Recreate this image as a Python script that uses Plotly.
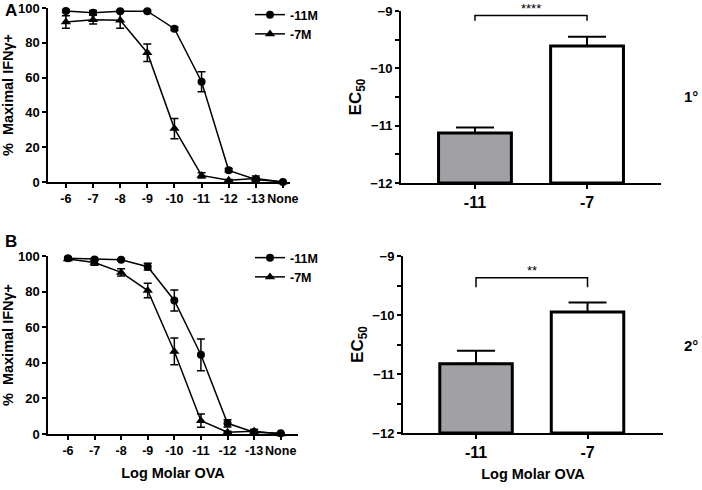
import plotly.graph_objects as go

# dose-response categories (log molar OVA)
doses = ['-6', '-7', '-8', '-9', '-10', '-11', '-12', '-13', 'None']

# panel A (1°) – % maximal IFNγ+
a_11m = [98.3, 97.3, 98.1, 98.2, 88.1, 57.6, 6.7, 1.5, 0.0]
a_11m_err = [0.8, 1.2, 0.6, 0.5, 1.0, 5.8, 1.0, 1.0, 0.3]
a_7m = [91.9, 93.3, 92.9, 74.3, 30.7, 3.8, 1.0, 2.0, 0.0]
a_7m_err = [3.6, 2.5, 4.6, 5.0, 5.8, 1.5, 0.5, 1.5, 0.3]

# panel B (2°)
b_11m = [98.7, 98.1, 97.9, 94.0, 75.0, 44.5, 6.0, 1.0, 0.4]
b_11m_err = [0.8, 0.6, 0.6, 1.9, 5.9, 8.9, 2.0, 1.5, 0.3]
b_7m = [98.3, 96.3, 90.8, 80.6, 46.4, 7.5, 1.0, 1.5, 0.0]
b_7m_err = [0.8, 1.5, 2.0, 4.1, 7.5, 3.7, 0.5, 1.0, 0.3]

# EC50 bars
groups = ['-11', '-7']
a_ec50 = [-11.13, -9.61]
a_ec50_err = [0.10, 0.16]
b_ec50 = [-10.825, -9.95]
b_ec50_err = [0.22, 0.16]
bar_colors = ['#a0a0a5', 'white']

# significance brackets: [bottom, top] and stars
a_bracket = [-9.17, -9.08]
a_stars = '****'
b_bracket = [-9.53, -9.37]
b_stars = '**'

FONT = 'Liberation Sans'
fig = go.Figure()


def add_curves(xa, ya, y11, e11, y7, e7, legend):
    fig.add_trace(go.Scatter(
        x=doses, y=y11, mode='lines+markers', name='-11M',
        xaxis=xa, yaxis=ya, legend=legend, cliponaxis=False,
        line=dict(color='black', width=1.5),
        marker=dict(symbol='circle', size=8, color='black'),
        error_y=dict(type='data', array=e11, color='black', thickness=1.5, width=4)
    ))
    fig.add_trace(go.Scatter(
        x=doses, y=y7, mode='lines+markers', name='-7M',
        xaxis=xa, yaxis=ya, legend=legend, cliponaxis=False,
        line=dict(color='black', width=1.5),
        marker=dict(symbol='triangle-up', size=9, color='black'),
        error_y=dict(type='data', array=e7, color='black', thickness=1.5, width=4)
    ))


def add_bars(xa, ya, vals, errs, bracket, stars):
    base = -12
    for g, v, e, c in zip(groups, vals, errs, bar_colors):
        fig.add_trace(go.Bar(
            x=[g], y=[v - base], base=base, width=0.65,
            xaxis=xa, yaxis=ya, showlegend=False,
            marker=dict(color=c, line=dict(color='black', width=3)),
            error_y=dict(type='data', array=[e], arrayminus=[0], color='black',
                         thickness=2, width=19)
        ))
    fig.add_trace(go.Scatter(
        x=[groups[0], groups[0], groups[1], groups[1]],
        y=[bracket[0], bracket[1], bracket[1], bracket[0]],
        mode='lines', line=dict(color='black', width=1.5),
        xaxis=xa, yaxis=ya, showlegend=False, cliponaxis=False
    ))
    fig.add_annotation(x=0.5, y=bracket[1], xref=xa, yref=ya, text=stars,
                       showarrow=False, yanchor='bottom', yshift=-2,
                       font=dict(family=FONT, size=13, color='black'))


add_curves('x', 'y', a_11m, a_11m_err, a_7m, a_7m_err, 'legend')
add_bars('x2', 'y2', a_ec50, a_ec50_err, a_bracket, a_stars)
add_curves('x3', 'y3', b_11m, b_11m_err, b_7m, b_7m_err, 'legend2')
add_bars('x4', 'y4', b_ec50, b_ec50_err, b_bracket, b_stars)

tick_x = dict(family=FONT, size=12.5, color='black', weight='bold')
tick_y = dict(family=FONT, size=13, color='black', weight='bold')
tick_big = dict(family=FONT, size=16, color='black', weight='bold')
title_font = dict(family=FONT, size=14.5, color='black', weight='bold')
legend_font = dict(family=FONT, size=12.5, color='black', weight='bold')
ax_common = dict(showline=True, linecolor='black', showgrid=False, zeroline=False,
                 ticks='outside', ticklen=4, tickcolor='black', automargin=False,
                 tickangle=0)

W, H = 702, 490


def px(a, b):
    return [a / W, b / W]


def py(top, bottom):
    return [1 - bottom / H, 1 - top / H]


curve_y = dict(ax_common, range=[0, 100], dtick=20, linewidth=1.5, tickwidth=1.5,
               tickfont=tick_y,
               title=dict(text='%  Maximal IFNγ+', font=title_font, standoff=4))
bar_y = dict(ax_common, range=[-12, -9], dtick=1, linewidth=2, tickwidth=1.5,
             tickfont=tick_y,
             minor=dict(dtick=0.5, ticks='outside', ticklen=4, tickcolor='black', tickwidth=1.5),
             title=dict(text='EC<sub>50</sub>', font=dict(title_font, size=17), standoff=4))

fig.update_layout(
    width=W, height=H, margin=dict(l=0, r=0, t=0, b=0),
    paper_bgcolor='white', plot_bgcolor='white',
    barmode='overlay',
    xaxis=dict(ax_common, type='category', domain=px(48, 290), range=[-0.66, 8.26],
               linewidth=1.5, tickwidth=1.5, tickfont=tick_x, anchor='y'),
    yaxis=dict(curve_y, domain=py(8, 182), anchor='x'),
    xaxis2=dict(ax_common, type='category', domain=px(401, 661), range=[-0.66, 1.66],
                linewidth=2, tickwidth=1.5, tickfont=tick_big, anchor='y2'),
    yaxis2=dict(bar_y, domain=py(11, 183), anchor='x2'),
    xaxis3=dict(ax_common, type='category', domain=px(48, 298), range=[-0.75, 8.65],
                linewidth=1.5, tickwidth=1.5, tickfont=tick_x, anchor='y3',
                title=dict(text='Log Molar OVA', font=title_font, standoff=11)),
    yaxis3=dict(curve_y, domain=py(256, 434), anchor='x3'),
    xaxis4=dict(ax_common, type='category', domain=px(403, 663), range=[-0.655, 1.677],
                linewidth=2, tickwidth=1.5, tickfont=tick_big, anchor='y4',
                title=dict(text='Log Molar OVA', font=title_font, standoff=9)),
    yaxis4=dict(bar_y, domain=py(256, 433), anchor='x4'),
    legend=dict(x=250 / W, y=1.0, xanchor='left', yanchor='top',
                font=legend_font, bgcolor='rgba(0,0,0,0)', tracegroupgap=0, itemwidth=30),
    legend2=dict(x=250 / W, y=1 - 243 / H, xanchor='left', yanchor='top',
                 font=legend_font, bgcolor='rgba(0,0,0,0)', tracegroupgap=0, itemwidth=30),
)

# panel letters and row labels
for txt, x, y in [('A', 3, 10), ('B', 3, 241)]:
    fig.add_annotation(text=txt, x=x / W, y=1 - y / H, xref='paper', yref='paper',
                       xanchor='left', yanchor='middle', showarrow=False,
                       font=dict(family=FONT, size=17, color='black', weight='bold'))
for txt, y in [('1°', 97), ('2°', 345)]:
    fig.add_annotation(text=txt, x=691 / W, y=1 - y / H, xref='paper', yref='paper',
                       xanchor='center', yanchor='middle', showarrow=False,
                       font=dict(family=FONT, size=15, color='black', weight='bold'))

# drop the browser's default 8px page margin so the figure sits in the window corner
fig.write_html('out.html', config={'displayModeBar': False},
               post_script="document.body.style.margin = '0';")
